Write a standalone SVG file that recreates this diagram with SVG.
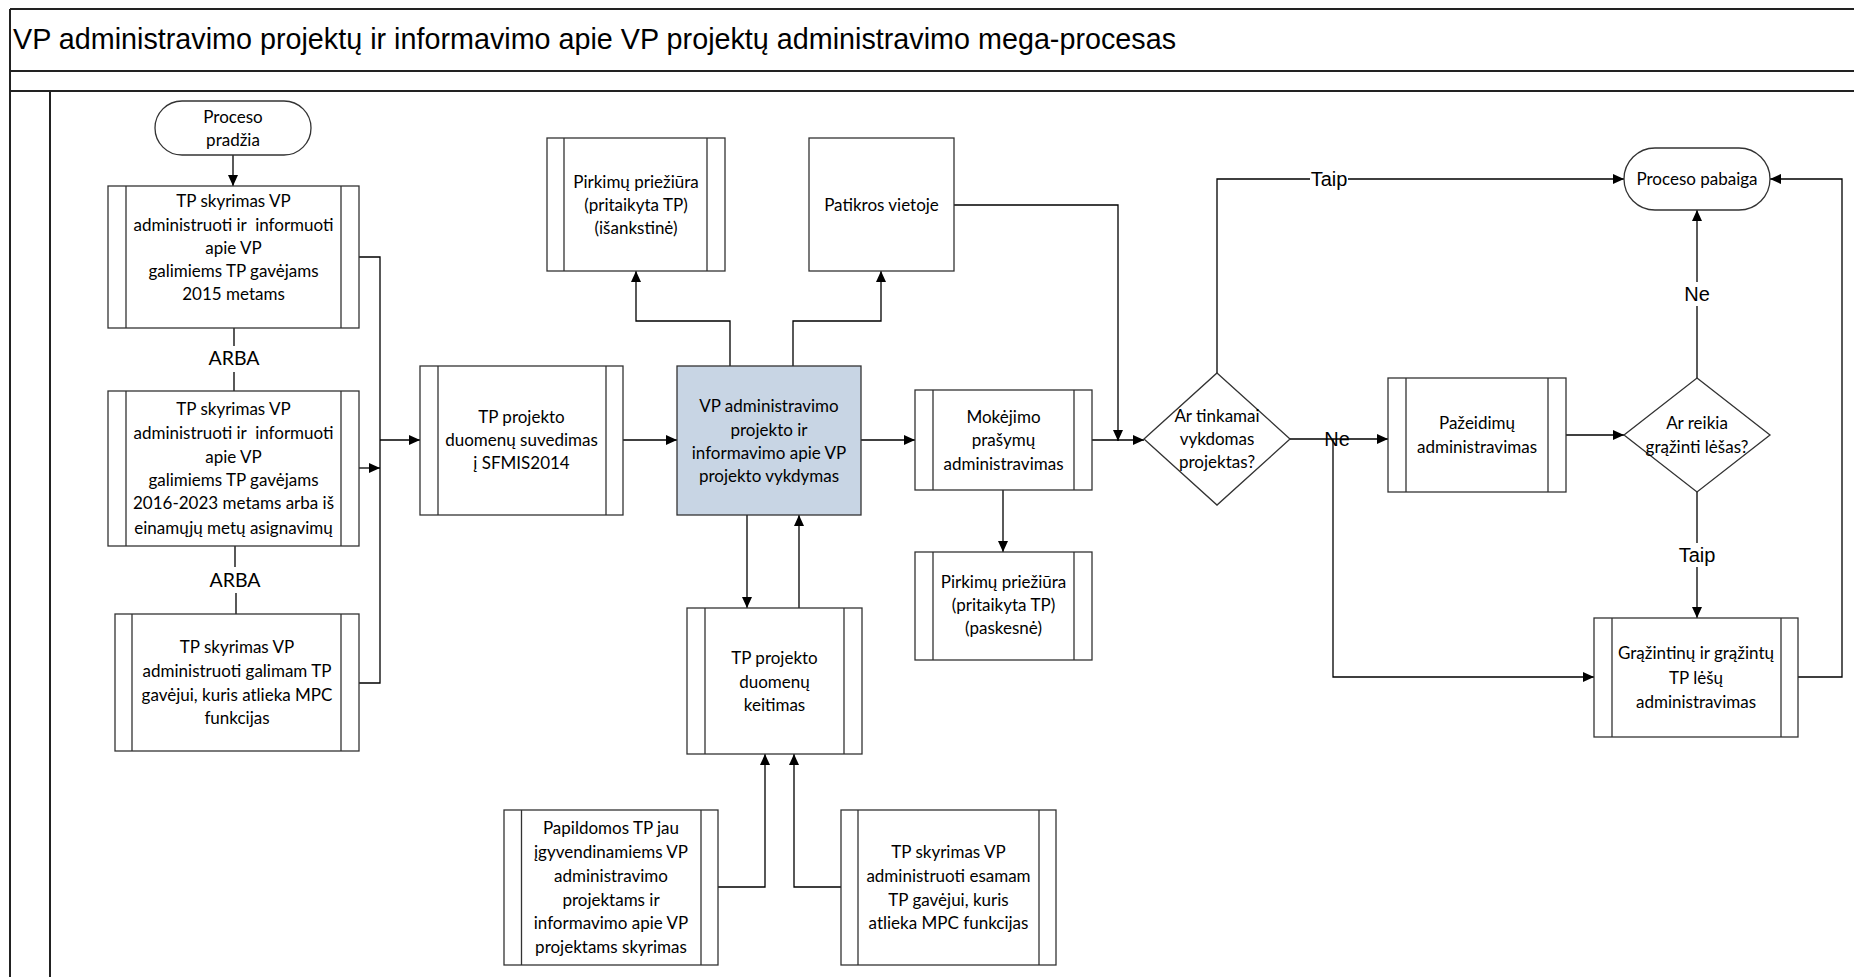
<svg xmlns="http://www.w3.org/2000/svg" width="1854" height="977" viewBox="0 0 1854 977">
<style>
.frame{fill:none;stroke:#222;stroke-width:2}
.box{fill:#fff;stroke:#333;stroke-width:1.3}
.bar{fill:none;stroke:#333;stroke-width:1.3}
.hl{fill:#C8D5E4;stroke:#333;stroke-width:1.3}
.c{fill:none;stroke:#000;stroke-width:1.3}
.ca{fill:none;stroke:#000;stroke-width:1.3;marker-end:url(#ah)}
.t{font-family:Lato,"Open Sans",sans-serif;font-size:17px;text-anchor:middle;fill:#000}
.arba{font-family:Lato,"Open Sans",sans-serif;font-size:19.5px;text-anchor:middle;fill:#000}
.lbl{font-family:"Liberation Sans",Arial,sans-serif;font-size:20px;text-anchor:middle;fill:#000}
.title{font-family:"Liberation Sans",Arial,sans-serif;font-size:29px;fill:#000}
</style>
<defs>
<marker id="ah" markerUnits="userSpaceOnUse" markerWidth="11" markerHeight="10" refX="11" refY="5" orient="auto">
<path d="M0,0 L11,5 L0,10 z" fill="#000"/>
</marker>
</defs>
<rect width="1854" height="977" fill="#fff"/>
<g id="frame">
<path class="frame" d="M10,9 H1854 M10,9 V977 M10,71 H1854 M10,91 H1854 M50,91 V977"/>
<text class="title" x="13" y="49" textLength="1163" lengthAdjust="spacingAndGlyphs">VP administravimo projektų ir informavimo apie VP projektų administravimo mega-procesas</text>
</g>
<g id="connectors">
<path class="ca" d="M233,155 V186"/>
<path class="c" d="M359,257 H380 V683 H359"/>
<path class="ca" d="M359,468 H380"/>
<path class="ca" d="M380,440 H420"/>
<path class="c" d="M234,328 V346 M234,372 V391"/>
<path class="c" d="M235,546 V567 M236,593 V614"/>
<path class="ca" d="M623,440 H677"/>
<path class="ca" d="M730,366 V321 H636 V271"/>
<path class="ca" d="M793,366 V321 H881 V271"/>
<path class="ca" d="M861,440 H915"/>
<path class="ca" d="M1092,440 H1144"/>
<path class="ca" d="M954,205 H1118 V441"/>
<path class="ca" d="M1003,490 V552"/>
<path class="ca" d="M747,515 V608"/>
<path class="ca" d="M799,608 V515"/>
<path class="ca" d="M718,887 H765 V754"/>
<path class="ca" d="M841,887 H794 V754"/>
<path class="ca" d="M1217,373 V179 H1624"/>
<path class="ca" d="M1290,439 H1388"/>
<path class="ca" d="M1333,439 V677 H1594"/>
<path class="ca" d="M1566,435 H1624"/>
<path class="ca" d="M1697,378 V210"/>
<path class="ca" d="M1697,492 V618"/>
<path class="ca" d="M1798,677 H1842 V179 H1770"/>
<rect x="1310" y="168" width="38" height="22" fill="#fff"/>
<text class="lbl" x="1329" y="186">Taip</text>
<text class="lbl" x="1337" y="446">Ne</text>
<rect x="1684" y="282" width="26" height="24" fill="#fff"/>
<text class="lbl" x="1697" y="301">Ne</text>
<rect x="1678" y="543" width="38" height="24" fill="#fff"/>
<text class="lbl" x="1697" y="562">Taip</text>
<text class="arba" x="234" y="365">ARBA</text>
<text class="arba" x="235" y="587">ARBA</text>
</g>
<g id="start">
<rect class="box" x="155" y="101" width="156" height="54" rx="27"/>
<text class="t" x="233" y="123">Proceso</text>
<text class="t" x="233" y="146">pradžia</text>
</g>
<g id="box1">
<rect class="box" x="108" y="186" width="251" height="142"/>
<path class="bar" d="M126,186 V328 M341,186 V328"/>
<text class="t" x="233.5" y="207">TP skyrimas VP</text>
<text class="t" x="233.5" y="231">administruoti ir&#160; informuoti</text>
<text class="t" x="233.5" y="254">apie VP</text>
<text class="t" x="233.5" y="277">galimiems TP gavėjams</text>
<text class="t" x="233.5" y="300">2015 metams</text>
</g>
<g id="box2">
<rect class="box" x="108" y="391" width="251" height="155"/>
<path class="bar" d="M126,391 V546 M341,391 V546"/>
<text class="t" x="233.5" y="415">TP skyrimas VP</text>
<text class="t" x="233.5" y="439">administruoti ir&#160; informuoti</text>
<text class="t" x="233.5" y="463">apie VP</text>
<text class="t" x="233.5" y="486">galimiems TP gavėjams</text>
<text class="t" x="233.5" y="509">2016-2023 metams arba iš</text>
<text class="t" x="233.5" y="534">einamųjų metų asignavimų</text>
</g>
<g id="box3">
<rect class="box" x="115" y="614" width="244" height="137"/>
<path class="bar" d="M132,614 V751 M341,614 V751"/>
<text class="t" x="237" y="653">TP skyrimas VP</text>
<text class="t" x="237" y="677">administruoti galimam TP</text>
<text class="t" x="237" y="701">gavėjui, kuris atlieka MPC</text>
<text class="t" x="237" y="724">funkcijas</text>
</g>
<g id="suvedimas">
<rect class="box" x="420" y="366" width="203" height="149"/>
<path class="bar" d="M438,366 V515 M606,366 V515"/>
<text class="t" x="521.5" y="423">TP projekto</text>
<text class="t" x="521.5" y="446">duomenų suvedimas</text>
<text class="t" x="521.5" y="469">į SFMIS2014</text>
</g>
<g id="vykdymas">
<rect class="hl" x="677" y="366" width="184" height="149"/>
<text class="t" x="769" y="412">VP administravimo</text>
<text class="t" x="769" y="436">projekto ir</text>
<text class="t" x="769" y="459">informavimo apie VP</text>
<text class="t" x="769" y="482">projekto vykdymas</text>
</g>
<g id="pirkimai1">
<rect class="box" x="547" y="138" width="178" height="133"/>
<path class="bar" d="M564,138 V271 M707,138 V271"/>
<text class="t" x="636" y="188">Pirkimų priežiūra</text>
<text class="t" x="636" y="211">(pritaikyta TP)</text>
<text class="t" x="636" y="234">(išankstinė)</text>
</g>
<g id="patikros">
<rect class="box" x="809" y="138" width="145" height="133"/>
<text class="t" x="881.5" y="211">Patikros vietoje</text>
</g>
<g id="mokejimo">
<rect class="box" x="915" y="390" width="177" height="100"/>
<path class="bar" d="M933,390 V490 M1074,390 V490"/>
<text class="t" x="1003.5" y="423">Mokėjimo</text>
<text class="t" x="1003.5" y="446">prašymų</text>
<text class="t" x="1003.5" y="470">administravimas</text>
</g>
<g id="pirkimai2">
<rect class="box" x="915" y="552" width="177" height="108"/>
<path class="bar" d="M933,552 V660 M1074,552 V660"/>
<text class="t" x="1003.5" y="588">Pirkimų priežiūra</text>
<text class="t" x="1003.5" y="611">(pritaikyta TP)</text>
<text class="t" x="1003.5" y="634">(paskesnė)</text>
</g>
<g id="keitimas">
<rect class="box" x="687" y="608" width="175" height="146"/>
<path class="bar" d="M705,608 V754 M844,608 V754"/>
<text class="t" x="774.5" y="664">TP projekto</text>
<text class="t" x="774.5" y="688">duomenų</text>
<text class="t" x="774.5" y="711">keitimas</text>
</g>
<g id="papildomos">
<rect class="box" x="504" y="810" width="214" height="155"/>
<path class="bar" d="M521.5,810 V965 M701,810 V965"/>
<text class="t" x="611" y="834">Papildomos TP jau</text>
<text class="t" x="611" y="858">įgyvendinamiems VP</text>
<text class="t" x="611" y="882">administravimo</text>
<text class="t" x="611" y="906">projektams ir</text>
<text class="t" x="611" y="929">informavimo apie VP</text>
<text class="t" x="611" y="953">projektams skyrimas</text>
</g>
<g id="esamam">
<rect class="box" x="841" y="810" width="215" height="155"/>
<path class="bar" d="M858,810 V965 M1039,810 V965"/>
<text class="t" x="948.5" y="858">TP skyrimas VP</text>
<text class="t" x="948.5" y="882">administruoti esamam</text>
<text class="t" x="948.5" y="906">TP gavėjui, kuris</text>
<text class="t" x="948.5" y="929">atlieka MPC funkcijas</text>
</g>
<g id="decision1">
<polygon class="box" points="1217,373 1290,439 1217,505 1144,439"/>
<text class="t" x="1217" y="422">Ar tinkamai</text>
<text class="t" x="1217" y="445">vykdomas</text>
<text class="t" x="1217" y="468">projektas?</text>
</g>
<g id="pazeidimu">
<rect class="box" x="1388" y="378" width="178" height="114"/>
<path class="bar" d="M1406,378 V492 M1548,378 V492"/>
<text class="t" x="1477" y="429">Pažeidimų</text>
<text class="t" x="1477" y="453">administravimas</text>
</g>
<g id="decision2">
<polygon class="box" points="1697,378 1770,435 1697,492 1624,435"/>
<text class="t" x="1697" y="429">Ar reikia</text>
<text class="t" x="1697" y="453">grąžinti lėšas?</text>
</g>
<g id="end">
<rect class="box" x="1624" y="148" width="146" height="62" rx="31"/>
<text class="t" x="1697" y="185">Proceso pabaiga</text>
</g>
<g id="grazintinu">
<rect class="box" x="1594" y="618" width="204" height="119"/>
<path class="bar" d="M1612,618 V737 M1781,618 V737"/>
<text class="t" x="1696" y="659">Grąžintinų ir grąžintų</text>
<text class="t" x="1696" y="684">TP lėšų</text>
<text class="t" x="1696" y="708">administravimas</text>
</g>
</svg>
